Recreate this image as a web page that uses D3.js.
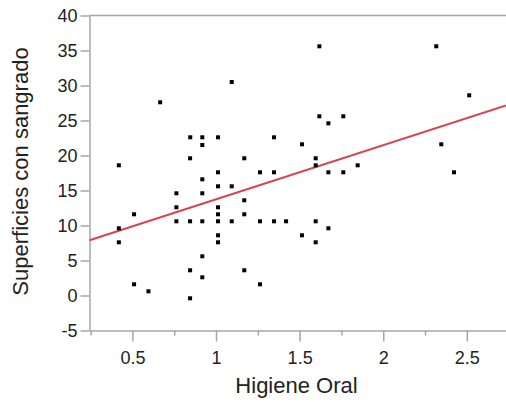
<!DOCTYPE html>
<html>
<head>
<meta charset="utf-8">
<script src="https://cdn.jsdelivr.net/npm/d3@7/dist/d3.min.js"></script>
<style>
  html, body { margin: 0; padding: 0; background: #fff; }
  svg { display: block; font-family: "Liberation Sans", Arial, sans-serif; }
</style>
</head>
<body>
<svg id="chart" width="506" height="402"></svg>
<script>
// Higiene Oral (x) values
const higieneOral = [
  0.666, 0.846, 0.918, 1.012, 0.918, 0.845, 0.419, 1.012, 1.618, 1.094,
  1.618, 1.672, 1.761, 1.347, 1.514, 1.169, 1.596, 1.596, 1.847, 1.263,
  1.347, 1.672, 1.761, 2.317, 2.514, 2.347, 2.423, 0.918, 0.763, 0.918,
  1.012, 1.094, 0.510, 0.419, 0.419, 0.763, 0.763, 0.845, 0.918, 1.012,
  1.012, 1.012, 1.012, 1.012, 1.094, 0.918, 0.845, 0.918, 0.510, 0.596,
  0.845, 1.169, 1.169, 1.263, 1.347, 1.419, 1.596, 1.672, 1.514, 1.596,
  1.169, 1.263
];
// Superficies con sangrado (y) values
const superficies = [
  27.6, 22.6, 22.6, 22.6, 21.5, 19.6, 18.6, 17.6, 35.6, 30.5,
  25.6, 24.6, 25.6, 22.6, 21.6, 19.6, 19.6, 18.6, 18.6, 17.6,
  17.6, 17.6, 17.6, 35.6, 28.6, 21.6, 17.6, 16.6, 14.6, 14.6,
  15.6, 15.6, 11.6, 9.6, 7.6, 12.6, 10.6, 10.6, 10.6, 12.6,
  11.6, 10.6, 8.6, 7.6, 10.6, 5.6, 3.6, 2.6, 1.6, 0.6,
  -0.4, 13.6, 11.6, 10.6, 10.6, 10.6, 10.6, 9.6, 8.6, 7.6,
  3.6, 1.6
];
// Fitted line: [intercept, slope]
const fitLine = [6.02, 7.73];
const xTicks = [0.5, 1, 1.5, 2, 2.5];
const xMinorTicks = [0.25, 0.75, 1.25, 1.75, 2.25];
const yTicks = [-5, 0, 5, 10, 15, 20, 25, 30, 35, 40];
const xDomain = [0.2435, 2.734];
const yDomain = [-5, 40];
const xTitle = "Higiene Oral";
const yTitle = "Superficies con sangrado";

(function () {
const svg = d3.select("#chart");
const mLeft = 89.5, mRight = 506, mTop = 15.5, mBottom = 330.5;

const x = d3.scaleLinear().domain(xDomain).range([mLeft, mRight]);
const y = d3.scaleLinear().domain(yDomain).range([mBottom, mTop]);

const axisColor = "#a6a6a6";
const textColor = "#222";
const fmt = d => String(d);

// top border
svg.append("line")
  .attr("x1", mLeft).attr("x2", mRight)
  .attr("y1", mTop).attr("y2", mTop)
  .attr("stroke", axisColor).attr("stroke-width", 1.5);

// X axis major
const gx = svg.append("g").attr("transform", `translate(0,${mBottom})`)
  .call(d3.axisBottom(x).tickValues(xTicks).tickSize(11).tickSizeOuter(0)
    .tickFormat(fmt));
// X axis minor
const gxm = svg.append("g").attr("transform", `translate(0,${mBottom})`)
  .call(d3.axisBottom(x).tickValues(xMinorTicks).tickSize(5).tickSizeOuter(0)
    .tickFormat(""));
gxm.select(".domain").remove();

// Y axis
const gy = svg.append("g").attr("transform", `translate(${mLeft},0)`)
  .call(d3.axisLeft(y).tickValues(yTicks).tickSize(9).tickSizeOuter(0)
    .tickFormat(fmt));

[gx, gxm, gy].forEach(g => {
  g.selectAll(".domain").attr("stroke", axisColor).attr("stroke-width", 1.5);
  g.selectAll(".tick line").attr("stroke", axisColor).attr("stroke-width", 1.5);
  g.selectAll(".tick text").attr("fill", textColor)
    .style("font-size", "18px").style("font-family", '"Liberation Sans", Arial, sans-serif');
});
gx.selectAll(".tick text").attr("dy", 0).attr("y", 33);
gy.selectAll(".tick text").attr("x", -12).attr("dy", "0.36em");

// Regression line
svg.append("line")
  .attr("x1", x(xDomain[0])).attr("y1", y(fitLine[0] + fitLine[1] * xDomain[0]))
  .attr("x2", x(xDomain[1])).attr("y2", y(fitLine[0] + fitLine[1] * xDomain[1]))
  .attr("stroke", "#d9434f").attr("stroke-width", 2);

// Points
const pts = higieneOral.map((v, i) => [v, superficies[i]]);
svg.append("g").selectAll("rect").data(pts).join("rect")
  .attr("x", d => x(d[0]) - 2)
  .attr("y", d => y(d[1]) - 2)
  .attr("width", 4).attr("height", 4)
  .attr("fill", "#000");

// Titles
svg.append("text")
  .attr("x", 296.5).attr("y", 393)
  .attr("text-anchor", "middle")
  .attr("fill", textColor)
  .style("font-size", "22px")
  .text(xTitle);

svg.append("text")
  .attr("transform", `translate(28,171.5) rotate(-90)`)
  .attr("text-anchor", "middle")
  .attr("fill", textColor)
  .style("font-size", "22px")
  .text(yTitle);
})();
</script>
</body>
</html>
